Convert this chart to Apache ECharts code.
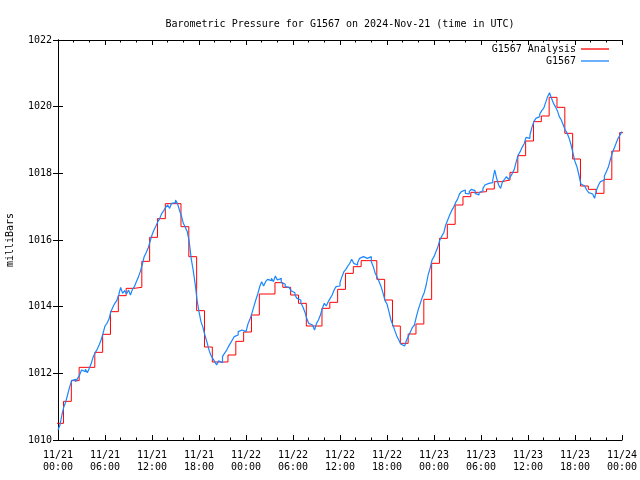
<!DOCTYPE html>
<html>
<head>
<meta charset="utf-8">
<script src="https://cdn.jsdelivr.net/npm/echarts@6/dist/echarts.min.js"></script>
<style>
html,body{margin:0;padding:0;background:#fff;}
#chart{width:640px;height:480px;}
</style>
</head>
<body>
<div id="chart"></div>
<script>
// Hourly analysis levels (hold values), steps occur at ~HH:42
var analysisValues = [
  1010.5, 1011.16, 1011.78, 1012.18, 1012.18, 1012.63, 1013.17, 1013.85, 1014.33, 1014.55, 1014.58, 1015.36,
  1016.08, 1016.64, 1017.09, 1017.09, 1016.4, 1015.5, 1013.88, 1012.79, 1012.34, 1012.34, 1012.55, 1012.96,
  1013.24, 1013.75, 1014.38, 1014.38, 1014.72, 1014.58, 1014.35, 1014.1, 1013.42, 1013.42, 1013.95, 1014.13,
  1014.52, 1015.0, 1015.2, 1015.38, 1015.38, 1014.82, 1014.2, 1013.42, 1012.9, 1013.18, 1013.48, 1014.22,
  1015.3, 1016.05, 1016.47, 1017.05, 1017.3, 1017.43, 1017.45, 1017.53, 1017.75, 1017.8, 1018.03, 1018.53,
  1018.97, 1019.55, 1019.72, 1020.28, 1019.98, 1019.2, 1018.43, 1017.62, 1017.52, 1017.4, 1017.82, 1018.67,
  1019.22
];
var analysisStartHour = -0.3;   // first analysis step time (hours from 11/21 00:00)
var analysisStepHours = 1;

// Observed station pressure, every 15 minutes from 11/21 00:00
var observedValues = [
  1010.3, 1010.45, 1010.75, 1011.0, 1011.15, 1011.38, 1011.6, 1011.78, 1011.82, 1011.75, 1011.85, 1011.95,
  1012.1, 1012.05, 1012.12, 1012.02, 1012.15, 1012.3, 1012.5, 1012.62, 1012.72, 1012.85, 1013.0, 1013.2,
  1013.42, 1013.5, 1013.62, 1013.85, 1013.98, 1014.1, 1014.18, 1014.35, 1014.58, 1014.4, 1014.48, 1014.38,
  1014.5, 1014.35, 1014.52, 1014.6, 1014.75, 1014.88, 1015.05, 1015.25, 1015.5, 1015.62, 1015.75, 1015.95,
  1016.15, 1016.3, 1016.42, 1016.55, 1016.65, 1016.8, 1016.88, 1016.98, 1017.05, 1016.95, 1017.1, 1017.12,
  1017.2, 1017.1, 1016.9, 1016.72, 1016.5, 1016.38, 1016.25, 1015.95, 1015.45, 1015.1, 1014.7, 1014.2,
  1013.85, 1013.55, 1013.38, 1013.15, 1012.95, 1012.72, 1012.55, 1012.45, 1012.35, 1012.25, 1012.38, 1012.32,
  1012.5, 1012.6, 1012.68, 1012.8, 1012.9, 1013.0, 1013.1, 1013.15, 1013.25, 1013.3, 1013.35, 1013.25,
  1013.3, 1013.48, 1013.62, 1013.8, 1014.0, 1014.2, 1014.38, 1014.6, 1014.75, 1014.62, 1014.75, 1014.82,
  1014.78, 1014.85, 1014.75, 1014.92, 1014.8, 1014.85, 1014.72, 1014.68, 1014.6, 1014.58, 1014.52, 1014.48,
  1014.42, 1014.35, 1014.25, 1014.2, 1014.12, 1014.0, 1013.85, 1013.65, 1013.5, 1013.45, 1013.4, 1013.3,
  1013.5, 1013.6, 1013.75, 1013.95, 1014.1, 1014.02, 1014.15, 1014.25, 1014.35, 1014.5, 1014.6, 1014.62,
  1014.72, 1014.9, 1015.05, 1015.12, 1015.22, 1015.3, 1015.42, 1015.3, 1015.25, 1015.32, 1015.45, 1015.5,
  1015.55, 1015.45, 1015.42, 1015.5, 1015.35, 1015.2, 1015.0, 1014.88, 1014.75, 1014.6, 1014.4, 1014.18,
  1014.08, 1013.85, 1013.6, 1013.45, 1013.28, 1013.12, 1013.0, 1012.88, 1012.82, 1012.85, 1013.0, 1013.12,
  1013.25, 1013.38, 1013.45, 1013.7, 1013.92, 1014.1, 1014.28, 1014.42, 1014.65, 1014.95, 1015.15, 1015.4,
  1015.5, 1015.65, 1015.8, 1016.0, 1016.12, 1016.22, 1016.45, 1016.6, 1016.75, 1016.88, 1016.98, 1017.12,
  1017.22, 1017.38, 1017.45, 1017.5, 1017.4, 1017.38, 1017.45, 1017.52, 1017.48, 1017.4, 1017.35, 1017.42,
  1017.48, 1017.55, 1017.65, 1017.7, 1017.68, 1017.72, 1017.8, 1018.1, 1017.85, 1017.65, 1017.55, 1017.75,
  1017.82, 1017.9, 1017.82, 1017.9, 1018.0, 1018.12, 1018.35, 1018.55, 1018.65, 1018.78, 1018.88, 1019.08,
  1019.05, 1019.15, 1019.38, 1019.55, 1019.65, 1019.7, 1019.78, 1019.88, 1019.95, 1020.12, 1020.3, 1020.42,
  1020.25, 1020.1, 1020.0, 1019.88, 1019.7, 1019.6, 1019.45, 1019.3, 1019.2, 1019.05, 1018.85, 1018.6,
  1018.35, 1018.2, 1017.95, 1017.68, 1017.62, 1017.6, 1017.5, 1017.42, 1017.38, 1017.32, 1017.25, 1017.5,
  1017.65, 1017.75, 1017.8, 1017.92, 1018.05, 1018.18, 1018.4, 1018.6, 1018.75, 1018.9, 1019.05, 1019.15,
  1019.25
];
var observedStepHours = 0.25;

var xTickDays = ['11/21', '11/22', '11/23', '11/24'];
var yTicks = [1010, 1012, 1014, 1016, 1018, 1020, 1022];

var FONT = 'DejaVu Sans Mono';

var analysisData = analysisValues.map(function (v, i) {
  return [analysisStartHour + i * analysisStepHours, v];
});
analysisData.push([analysisStartHour + analysisValues.length * analysisStepHours, analysisValues[analysisValues.length - 1]]);
var observedData = observedValues.map(function (v, i) { return [i * observedStepHours, v]; });

function xLabel(v) {
  var d = Math.floor(v / 24);
  var h = v - d * 24;
  return xTickDays[d] + '\n' + (h < 10 ? '0' : '') + h + ':00';
}

var chart = echarts.init(document.getElementById('chart'), null, {renderer: 'canvas'});
var axisCommon = {
  axisLine: {show: true, lineStyle: {color: '#000', width: 1}},
  splitLine: {show: false}
};
var legendCommon = {
  right: 31, padding: 0, align: 'right', icon: 'rect', itemWidth: 28, itemHeight: 1.3,
  textStyle: {fontFamily: FONT, fontSize: 10, color: '#000'}
};
chart.setOption({
  animation: false,
  backgroundColor: '#fff',
  title: {
    text: 'Barometric Pressure for G1567 on 2024-Nov-21 (time in UTC)',
    left: 340, top: 19, padding: 0, textAlign: 'center',
    textStyle: {fontFamily: FONT, fontSize: 10, fontWeight: 'normal', color: '#000'}
  },
  legend: [
    Object.assign({data: ['G1567 Analysis'], top: 44}, legendCommon),
    Object.assign({data: ['G1567'], top: 56}, legendCommon)
  ],
  grid: {left: 58, right: 18, top: 40, bottom: 40, containLabel: false, outerBoundsMode: 'none'},
  xAxis: [
    Object.assign({
      type: 'value', min: 0, max: 72, interval: 6, position: 'bottom',
      axisTick: {show: true, inside: true, length: 5, lineStyle: {color: '#000'}},
      minorTick: {show: true, splitNumber: 3, length: 2.5, lineStyle: {color: '#000'}},
      axisLabel: {formatter: xLabel, margin: 9, fontFamily: FONT, fontSize: 10, lineHeight: 12, color: '#000'}
    }, axisCommon),
    Object.assign({
      type: 'value', min: 0, max: 72, interval: 6, position: 'top',
      axisTick: {show: true, inside: true, length: 5, lineStyle: {color: '#000'}},
      minorTick: {show: true, splitNumber: 3, length: 2.5, lineStyle: {color: '#000'}},
      axisLabel: {show: false}
    }, axisCommon)
  ],
  yAxis: [
    Object.assign({
      type: 'value', min: yTicks[0], max: yTicks[yTicks.length - 1], interval: yTicks[1] - yTicks[0], position: 'left',
      axisTick: {show: true, inside: true, length: 5, lineStyle: {color: '#000'}},
      axisLabel: {margin: 6, fontFamily: FONT, fontSize: 10, color: '#000', formatter: function (v) { return String(v); }},
      name: 'milliBars', nameLocation: 'middle', nameGap: 43,
      nameTextStyle: {fontFamily: FONT, fontSize: 10, color: '#000'}
    }, axisCommon),
    Object.assign({
      type: 'value', min: yTicks[0], max: yTicks[yTicks.length - 1], interval: yTicks[1] - yTicks[0], position: 'right',
      axisTick: {show: true, inside: true, length: 5, lineStyle: {color: '#000'}},
      axisLabel: {show: false}
    }, axisCommon)
  ],
  series: [
    {name: 'G1567 Analysis', type: 'line', step: 'end', data: analysisData, symbol: 'none',
     xAxisIndex: 0, yAxisIndex: 0, clip: true,
     lineStyle: {color: '#ff0000', width: 1}, itemStyle: {color: '#ff0000'}},
    {name: 'G1567', type: 'line', step: 'end', data: observedData, symbol: 'none',
     xAxisIndex: 0, yAxisIndex: 0, clip: true,
     lineStyle: {color: '#1a86ff', width: 1.2}, itemStyle: {color: '#1a86ff'}}
  ]
});
</script>
</body>
</html>
